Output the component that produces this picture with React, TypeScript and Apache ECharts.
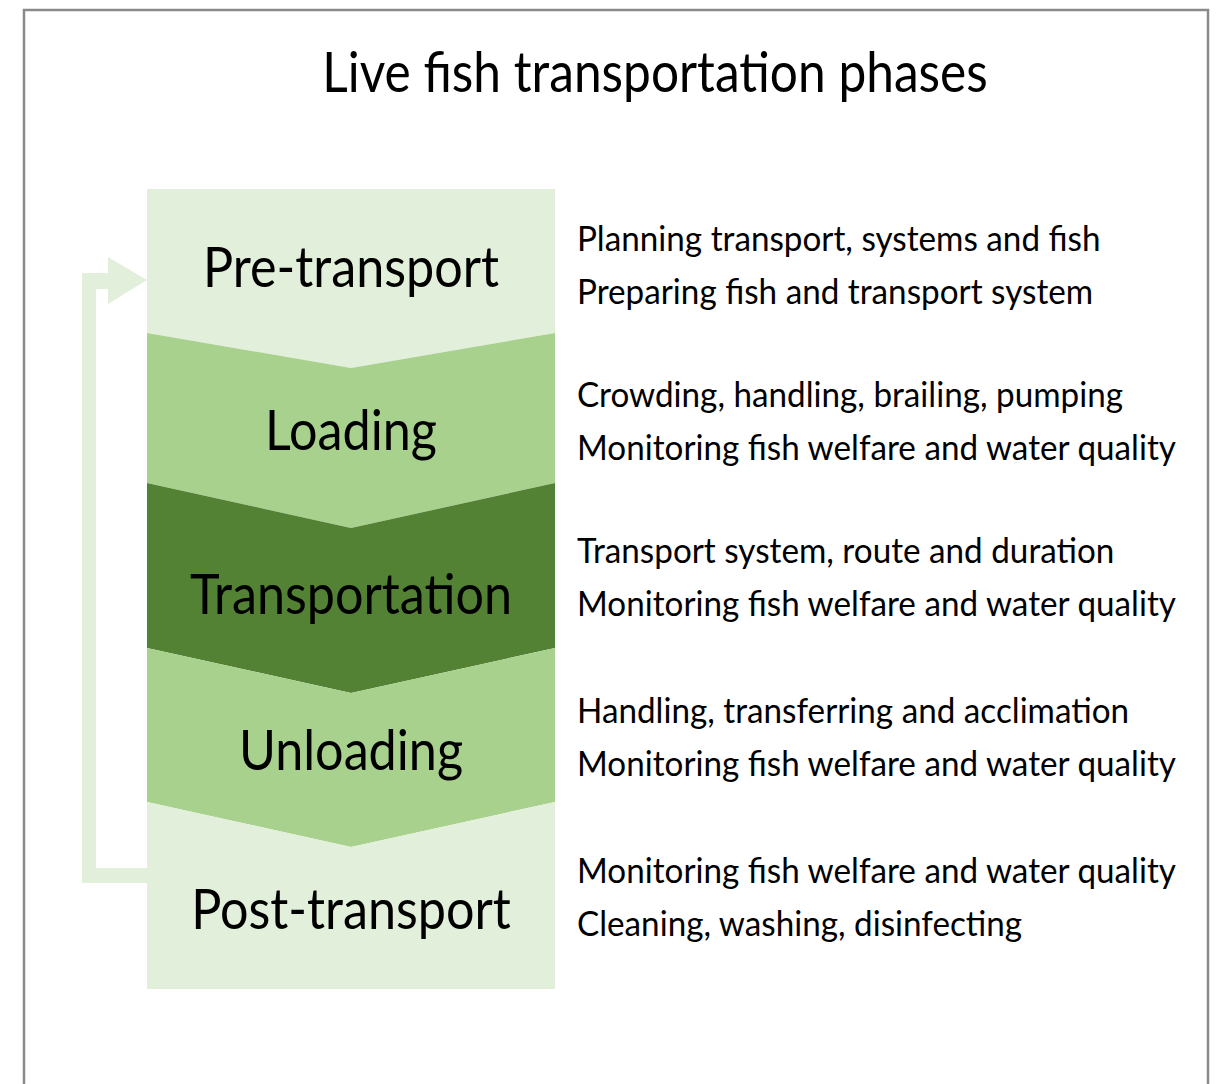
import React, { useEffect, useRef } from "react";
import * as echarts from "echarts";

// ---------- content ----------
const title = "Live fish transportation phases";
const phases = ["Pre-transport", "Loading", "Transportation", "Unloading", "Post-transport"];
const detailsLine1 = [
  "Planning transport, systems and fish",
  "Crowding, handling, brailing, pumping",
  "Transport system, route and duration",
  "Handling, transferring and acclimation",
  "Monitoring fish welfare and water quality",
];
const detailsLine2 = [
  "Preparing fish and transport system",
  "Monitoring fish welfare and water quality",
  "Monitoring fish welfare and water quality",
  "Monitoring fish welfare and water quality",
  "Cleaning, washing, disinfecting",
];
const phaseColors = ["#e2efda", "#a9d18e", "#548235", "#a9d18e", "#e2efda"];

// ---------- layout ----------
const W = 1217;
const H = 1084;
const FONT = "Lato";
const boxL = 147;
const boxR = 555;
const boxCx = 351;
const boxTop = 189;
const boxBottom = 989;
const seamEdgeY = [333, 483, 648, 802];
const seamDepth = [35, 45, 45, 45];
const labelY = [265, 428, 592, 748, 907];
const detailX = 577;
const detailY1 = [237, 393, 549, 709, 869];
const detailGap = 53;

function measure(text: string, size: number): number {
  const ctx = document.createElement("canvas").getContext("2d");
  if (!ctx) return 1;
  ctx.font = `${size}px ${FONT}`;
  return ctx.measureText(text).width || 1;
}

export default function App() {
  const ref = useRef<HTMLDivElement>(null);
  useEffect(() => {
    if (!ref.current) return;
    const chart = echarts.init(ref.current, undefined, { renderer: "svg" });

    const titleSize = 57;
    const phaseSize = 56;
    const detailSize = 35;
    const titleScale = 666 / measure(title, titleSize);
    const phaseScale = 322 / measure("Transportation", phaseSize);
    const detailScale = 601 / measure("Monitoring fish welfare and water quality", detailSize);

    const elements: any[] = [];
    // frame
    elements.push({
      type: "rect",
      shape: { x: 24, y: 10, width: 1184, height: 1120 },
      style: { fill: "#ffffff", stroke: "#8a8a8a", lineWidth: 2.5 },
      z: 0,
    });
    // chevrons
    phases.forEach((_, i) => {
      const pts: number[][] = [];
      if (i === 0) {
        pts.push([boxL, boxTop], [boxR, boxTop]);
      } else {
        const e = seamEdgeY[i - 1];
        pts.push([boxL, e], [boxCx, e + seamDepth[i - 1]], [boxR, e]);
      }
      if (i === phases.length - 1) {
        pts.push([boxR, boxBottom], [boxL, boxBottom]);
      } else {
        const e = seamEdgeY[i];
        pts.push([boxR, e], [boxCx, e + seamDepth[i]], [boxL, e]);
      }
      elements.push({
        type: "polygon",
        shape: { points: pts },
        style: { fill: phaseColors[i] },
        z: 1,
      });
      elements.push({
        type: "text",
        x: boxCx,
        y: labelY[i],
        scaleX: phaseScale,
        style: {
          text: phases[i],
          font: `${phaseSize}px ${FONT}`,
          fill: "#000000",
          align: "center",
          verticalAlign: "middle",
        },
        z: 3,
      });
      elements.push({
        type: "text",
        x: detailX,
        y: detailY1[i],
        scaleX: detailScale,
        style: {
          text: detailsLine1[i],
          font: `${detailSize}px ${FONT}`,
          fill: "#000000",
          align: "left",
          verticalAlign: "middle",
        },
        z: 3,
      });
      elements.push({
        type: "text",
        x: detailX,
        y: detailY1[i] + detailGap,
        scaleX: detailScale,
        style: {
          text: detailsLine2[i],
          font: `${detailSize}px ${FONT}`,
          fill: "#000000",
          align: "left",
          verticalAlign: "middle",
        },
        z: 3,
      });
    });
    // loop arrow
    elements.push({
      type: "polygon",
      shape: {
        points: [
          [82, 273], [108, 273], [108, 257], [147, 280], [108, 304], [108, 289],
          [96, 289], [96, 868], [147, 868], [147, 883], [82, 883],
        ],
      },
      style: { fill: "#e2efda" },
      z: 2,
    });
    // title
    elements.push({
      type: "text",
      x: 655,
      y: 70,
      scaleX: titleScale,
      style: {
        text: title,
        font: `${titleSize}px ${FONT}`,
        fill: "#000000",
        align: "center",
        verticalAlign: "middle",
      },
      z: 3,
    });

    chart.setOption({
      animation: false,
      backgroundColor: "#ffffff",
      graphic: { elements },
    });
    return () => chart.dispose();
  }, []);
  return (
    <div
      ref={ref}
      style={{ position: "fixed", left: 0, top: 0, width: W, height: H }}
    />
  );
}
